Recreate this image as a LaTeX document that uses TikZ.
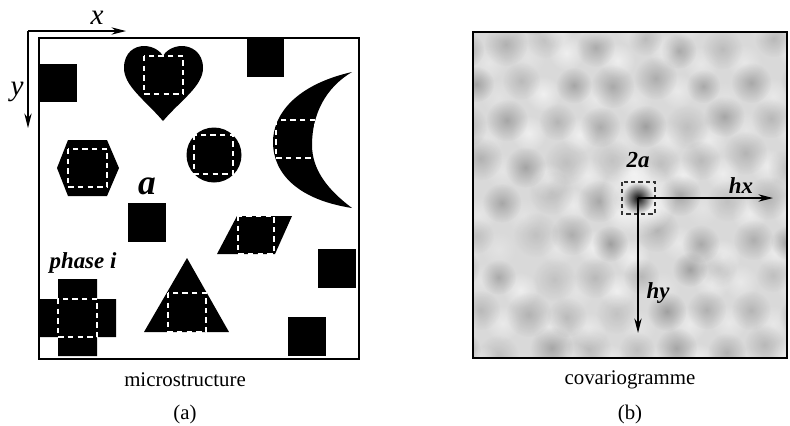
\documentclass[tikz,border=0pt]{standalone}
\usepackage{fontspec}
\setmainfont{Liberation Serif}
\usetikzlibrary{arrows.meta,fadings}
\tikzset{>={Stealth[length=7pt,width=3.5pt]}}
\tikzfading[name=flou,inner color=transparent!0,outer color=transparent!100]
\colorlet{phaseColor}{black}
\colorlet{fondGris}{black!15}
\tikzset{
  phase/.style={fill=phaseColor},
  fenetre/.style={draw=white,line width=0.7pt,dash pattern=on 2.6pt off 2pt},
  fenetreN/.style={draw=black!80,line width=0.6pt,dash pattern=on 2pt off 1.5pt},
  lbl/.style={font=\fontsize{11}{13}\selectfont\bfseries\itshape},
  axe/.style={font=\fontsize{14}{16}\selectfont\itshape},
  tache/.style={path fading=flou}
}

\begin{document}
\begin{tikzpicture}[x=0.48pt,y=-0.48pt]
  \useasboundingbox (0,0) rectangle (790,425);

  % (a) microstructure
  \fill[phase] (39,64) rectangle (77,102);
  \fill[phase] (247,38) rectangle (284,77);
  \fill[phase] (128,203) rectangle (166,242);
  \fill[phase] (318,249) rectangle (356,288);
  \fill[phase] (288,317) rectangle (326,356);

  \fill[phase] (163,121) .. controls (145,100) and (124,86) .. (124,68)
    .. controls (124,52) and (135,46) .. (144,46)
    .. controls (154,46) and (161,52) .. (163,56)
    .. controls (165,52) and (172,46) .. (182,46)
    .. controls (191,46) and (203,52) .. (203,68)
    .. controls (203,86) and (181,100) .. (163,121) -- cycle;
  \draw[fenetre] (144,56) rectangle (183,94);

  \fill[phase] (352,72) .. controls (295,85) and (273,115) .. (273,142)
    .. controls (273,175) and (300,200) .. (352,208)
    .. controls (328,190) and (312,170) .. (312,145)
    .. controls (312,115) and (325,88) .. (352,72) -- cycle;
  \draw[fenetre] (276,120) rectangle (315,158);

  \fill[phase] (68,140) -- (107,140) -- (119,168) -- (107,196) -- (68,196) -- (57,168) -- cycle;
  \draw[fenetre] (68,149) rectangle (107,187);

  \fill[phase] (214,155) circle [radius=27.5];
  \draw[fenetre] (194,135) rectangle (233,174);

  \fill[phase] (237,216) -- (292,216) -- (275,254) -- (217,254) -- cycle;
  \draw[fenetre] (238,216) rectangle (274,254);

  \fill[phase] (58,279) -- (97,279) -- (97,299) -- (116,299) -- (116,337) -- (97,337)
    -- (97,356) -- (58,356) -- (58,337) -- (39,337) -- (39,299) -- (58,299) -- cycle;
  \draw[fenetre] (58,299) rectangle (97,337);

  \fill[phase] (187,258) -- (229,332) -- (144,332) -- cycle;
  \draw[fenetre] (168,293) rectangle (206,332);

  \draw[line width=0.8pt] (39,38) rectangle (359,359);

  \coordinate (O) at (28,31);
  \coordinate (xend) at (126,31);
  \coordinate (yend) at (28,128);
  \draw[->,line width=0.6pt] (O) -- (xend);
  \draw[->,line width=0.6pt] (O) -- (yend);
  \node[axe] (lx) at (97,18) {x};
  \node[axe] (ly) at (17,92) {y};
  \node[lbl,font=\fontsize{17}{19}\selectfont\bfseries\itshape] (la) at (147,186) {a};
  \node[lbl] (lphase) at (83,263) {phase i};

  \node (capa) at (185,380) {microstructure};
  \node (numa) at (185,414) {(a)};

  % (b) covariogramme
  \coordinate (c0) at (638,198);
  \begin{scope}
    \clip (473,32) rectangle (787,358);
    \fill[fondGris] (473,32) rectangle (787,358);
    \pgfmathsetseed{11}
    \foreach \j in {-5,...,5}{
      \foreach \i in {-6,...,5}{
        \pgfmathsetmacro\px{638+44*\i+22*mod(abs(\j),2)+8*rand}
        \pgfmathsetmacro\py{198+38*\j+8*rand}
        \pgfmathsetmacro\g{0.1+0.17*rnd}
        \pgfmathsetmacro\w{0.25+0.4*rnd}
        \pgfmathsetmacro\r{17+6*rnd}
        \fill[tache,white,opacity=\w] (\px+22,\py+13) circle [radius=18];
        \fill[tache,black,opacity=\g] (\px,\py) circle [radius=\r];
      }
    }
    \fill[tache,white,opacity=0.9] (c0) circle [radius=38];
    \fill[tache,black,opacity=0.95] (c0) circle [radius=16];
  \end{scope}
  \draw[line width=0.8pt] (473,32) rectangle (787,358);

  \draw[fenetreN] (622,182) rectangle (655,214);
  \coordinate (hxend) at (773,198);
  \coordinate (hyend) at (638,333);
  \draw[->,line width=0.6pt] (c0) -- (hxend);
  \draw[->,line width=0.6pt] (c0) -- (hyend);
  \node[lbl] (l2a) at (638,160) {2a};
  \node[lbl] (lhx) at (741,186) {hx};
  \node[lbl] (lhy) at (658,293) {hy};

  \node (capb) at (630,380) {covariogramme};
  \node (numb) at (630,414) {(b)};
\end{tikzpicture}
\end{document}
